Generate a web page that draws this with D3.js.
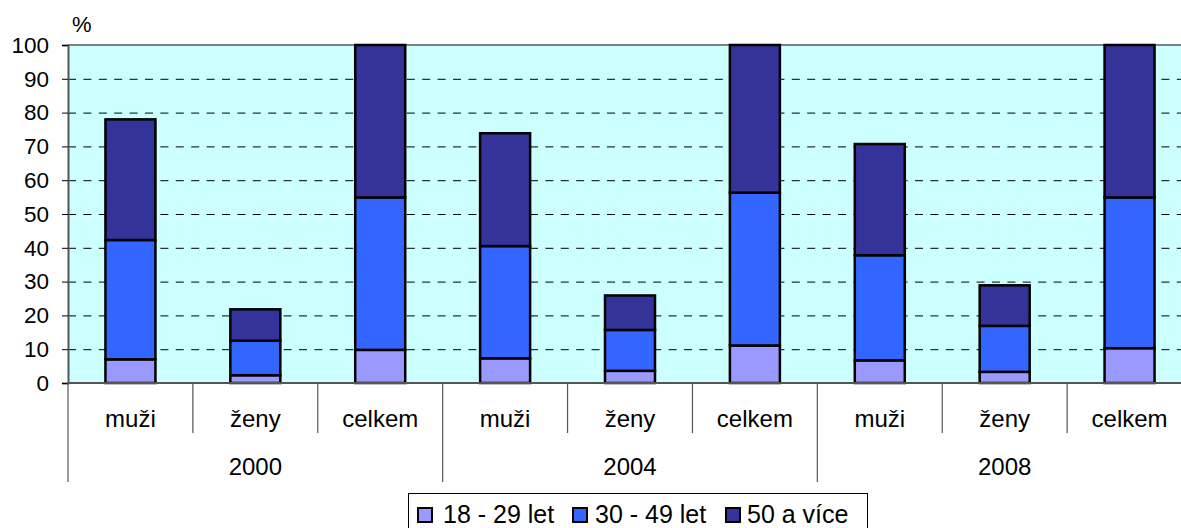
<!DOCTYPE html>
<html>
<head>
<meta charset="utf-8">
<script src="https://cdn.jsdelivr.net/npm/d3@7"></script>
<style>
  body { margin: 0; background: #fff; }
  text { font-family: "Liberation Sans", Arial, sans-serif; fill: #000; }
</style>
</head>
<body>
<svg id="chart" width="1181" height="528"></svg>
<script>
// data
const years = ["2000", "2004", "2008"];
const groups = ["muži", "ženy", "celkem"];
const seriesNames = ["18 - 29 let", "30 - 49 let", "50 a více"];
const seriesColors = ["#9999FF", "#3366FF", "#333399"];
const young = [7.0, 2.3, 9.8, 7.3, 3.6, 11.1, 6.7, 3.3, 10.3];
const middle = [35.3, 10.2, 45.1, 33.2, 12.1, 45.2, 31.1, 13.6, 44.6];
const old = [35.7, 9.3, 45.1, 33.4, 10.2, 43.7, 32.9, 12.0, 45.1];
const yTicks = [0, 10, 20, 30, 40, 50, 60, 70, 80, 90, 100];

const svg = d3.select("#chart");
const plotLeft = 68, plotRight = 1192, plotTop = 45, plotBottom = 383;

// build rows for the stack
const rows = [];
years.forEach((yr, i) => {
  groups.forEach((g, j) => {
    const k = i * 3 + j;
    rows.push({key: k, year: yr, group: g, s0: young[k], s1: middle[k], s2: old[k]});
  });
});

const x = d3.scaleBand().domain(rows.map(d => d.key)).range([plotLeft, plotRight]).paddingInner(0).paddingOuter(0);
const y = d3.scaleLinear().domain([0, 100]).range([plotBottom, plotTop]);

// plot background
svg.append("rect")
  .attr("x", plotLeft).attr("y", plotTop)
  .attr("width", plotRight - plotLeft).attr("height", plotBottom - plotTop)
  .attr("fill", "#CCFFFF");

// dashed gridlines
svg.append("g")
  .selectAll("line")
  .data(yTicks.filter(t => t > 0 && t < 100))
  .join("line")
  .attr("x1", plotLeft).attr("x2", plotRight)
  .attr("y1", d => y(d) + 0.5).attr("y2", d => y(d) + 0.5)
  .attr("stroke", "#000")
  .attr("stroke-width", 1)
  .attr("stroke-dasharray", "8,7.4");

// top border
svg.append("line")
  .attr("x1", plotLeft).attr("x2", plotRight)
  .attr("y1", y(100)).attr("y2", y(100))
  .attr("stroke", "#808080").attr("stroke-width", 2);

// stacked bars
const stack = d3.stack().keys(["s0", "s1", "s2"]);
const layers = stack(rows);
const barW = 50;

svg.append("g")
  .selectAll("g")
  .data(layers)
  .join("g")
  .attr("fill", (d, i) => seriesColors[i])
  .selectAll("rect")
  .data(d => d)
  .join("rect")
  .attr("x", d => x(d.data.key) + x.bandwidth() / 2 - barW / 2)
  .attr("y", d => y(d[1]))
  .attr("width", barW)
  .attr("height", d => y(d[0]) - y(d[1]))
  .attr("stroke", "#000")
  .attr("stroke-width", 2.5);

// y axis
const yAxis = svg.append("g")
  .attr("transform", `translate(${plotLeft},0)`)
  .call(d3.axisLeft(y).tickValues(yTicks).tickSize(6).tickPadding(13));
yAxis.select(".domain").attr("stroke", "#555").attr("stroke-width", 2);
yAxis.selectAll(".tick line").attr("stroke", "#000");
yAxis.selectAll("text").style("font-size", "22.5px").attr("fill", "#000");

// x axis baseline
svg.append("line")
  .attr("x1", plotLeft).attr("x2", plotRight)
  .attr("y1", plotBottom).attr("y2", plotBottom)
  .attr("stroke", "#555").attr("stroke-width", 2);

// category separators
const seps = d3.range(rows.length + 1).map(i => ({i: i, x: plotLeft + i * x.bandwidth()}));
svg.append("g")
  .selectAll("line")
  .data(seps)
  .join("line")
  .attr("x1", d => d.x).attr("x2", d => d.x)
  .attr("y1", plotBottom)
  .attr("y2", d => d.i % 3 === 0 ? 482 : 433)
  .attr("stroke", "#555")
  .attr("stroke-width", 1.2);

// category labels
svg.append("g")
  .selectAll("text")
  .data(rows)
  .join("text")
  .attr("x", d => x(d.key) + x.bandwidth() / 2)
  .attr("y", 427)
  .attr("text-anchor", "middle")
  .style("font-size", "24px")
  .text(d => d.group);

// year labels
svg.append("g")
  .selectAll("text")
  .data(years)
  .join("text")
  .attr("x", (d, i) => plotLeft + (i * 3 + 1.5) * x.bandwidth())
  .attr("y", 475)
  .attr("text-anchor", "middle")
  .style("font-size", "24px")
  .text(d => d);

// unit label
svg.append("text")
  .attr("x", 72).attr("y", 32)
  .style("font-size", "22px")
  .text("%");

// legend
const legend = svg.append("g");
legend.append("rect")
  .attr("x", 408.5).attr("y", 493.5)
  .attr("width", 459).attr("height", 40)
  .attr("fill", "#fff").attr("stroke", "#000").attr("stroke-width", 1);
const legX = [417, 572, 725];
const legTextX = [443, 595, 747];
seriesNames.forEach((name, i) => {
  legend.append("rect")
    .attr("x", legX[i] + 1).attr("y", 508)
    .attr("width", 14).attr("height", 14)
    .attr("fill", seriesColors[i])
    .attr("stroke", "#000").attr("stroke-width", 2);
  legend.append("text")
    .attr("x", legTextX[i]).attr("y", 523)
    .style("font-size", "25px")
    .text(name);
});
</script>
</body>
</html>
